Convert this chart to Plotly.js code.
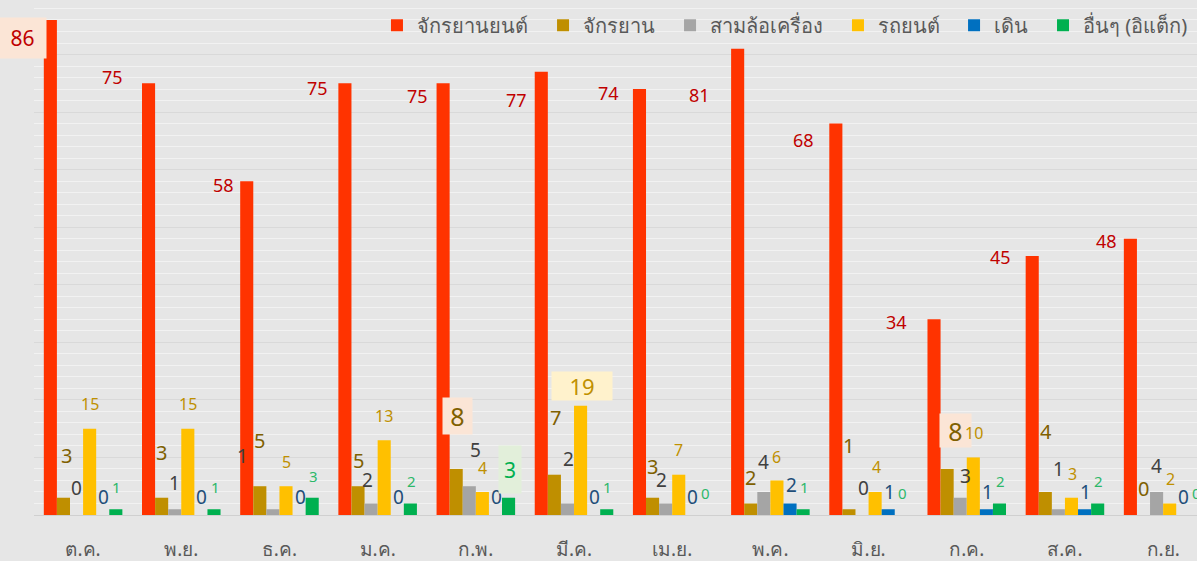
<!DOCTYPE html>
<html>
<head>
<meta charset="utf-8">
<script src="https://cdn.plot.ly/plotly-3.0.1.min.js"></script>
<style>html,body{margin:0;padding:0;background:#e6e6e6;}#chart{width:1197px;height:561px;}</style>
</head>
<body>
<div id="chart"></div>
<script>
// ---- data ----
const months = ['ต.ค.','พ.ย.','ธ.ค.','ม.ค.','ก.พ.','มี.ค.','เม.ย.','พ.ค.','มิ.ย.','ก.ค.','ส.ค.','ก.ย.'];
const seriesNames = ['จักรยานยนต์','จักรยาน','สามล้อเครื่อง','รถยนต์','เดิน','อื่นๆ (อิแต็ก)'];
const motorcycle = [86,75,58,75,75,77,74,81,68,34,45,48];
const bicycle    = [3,3,5,5,8,7,3,2,1,8,4,0];
const tricycle   = [0,1,1,2,5,2,2,4,0,3,1,4];
const car        = [15,15,5,13,4,19,7,6,4,10,3,2];
const walk       = [0,0,0,0,0,0,0,2,1,1,1,0];
const other      = [1,1,3,2,3,1,0,1,0,2,2,0];

// ---- styles ----
const values = [motorcycle, bicycle, tricycle, car, walk, other];
const barColors = ['#FF3300','#BF8F00','#A5A5A5','#FFC000','#0070C0','#00B050'];
const labelColors = ['#C00000','#7F6000','#404040','#BF9000','#1F4E79','#2DB86A'];
const labelSizes = [18,20,19,16,19,15];
// legend entry left positions (paper fraction of plot width)
const legendX = [0.2949,0.4377,0.5469,0.6913,0.7911,0.8676];
// label offsets in pixels (dx from bar centre, dy above bar top)
const labelDx = [
  [-28,-36,-23,-27,-26,-25,-31,-38,-32,-38,-32,-24],
  [3,0,0,0,1,1,0,0,0,8,1,0],
  [0,0,-30,-4,6,1,-4,0,1,5,0,0],
  [0,0,0,0,0,1,0,0,1,1,1,1],
  [1,1,1,1,1,1,1,1,1,1,1,1],
  [1,1,1,1,1,1,1,1,1,1,1,1]
];
const labelDy = [
  [-18,6,-4,-5,-13,-28,-4,-46,-16,-3,-1,-2],
  [42,45,46,26,53,57,31,26,64,38,60,27],
  [27,26,53,23,36,44,23,30,27,22,40,26],
  [25,25,24,24,24,20,25,23,25,24,24,24],
  [18,18,18,18,18,18,18,18,17,17,17,18],
  [22,22,22,22,28,22,22,22,22,22,22,22]
];
// highlighted labels: [series, month, bgcolor, width, height, fontsize]
const boxes = [
  [0,0,'#FBE5D6',47,40,21],
  [1,4,'#FBE5D6',29,36,25],
  [1,9,'#FBE5D6',31,33,25],
  [3,5,'#FFF2CC',60,28,22],
  [5,4,'#E2EFDA',22,47,21]
];

const FONT = 'Tahoma, "Noto Sans", "DejaVu Sans", sans-serif';
const nS = values.length;
const bargap = 0.2;
const bw = (1 - bargap) / nS;

const legendId = i => (i === 0 ? 'legend' : 'legend' + (i + 1));

const traces = values.map((v, i) => ({
  type: 'bar',
  name: seriesNames[i],
  x: months,
  y: v,
  marker: {color: barColors[i]},
  legend: legendId(i),
  hoverinfo: 'skip'
}));

const annotations = [];
values.forEach((v, s) => {
  v.forEach((val, m) => {
    const box = boxes.find(b => b[0] === s && b[1] === m);
    const a = {
      xref: 'x', yref: 'y',
      x: m - (1 - bargap) / 2 + (s + 0.5) * bw,
      y: val,
      text: String(val),
      showarrow: false,
      xanchor: 'center', yanchor: 'middle',
      xshift: labelDx[s][m],
      yshift: labelDy[s][m],
      font: {family: FONT, size: labelSizes[s], color: labelColors[s]}
    };
    if (box) {
      a.bgcolor = box[2];
      a.width = box[3];
      a.height = box[4];
      a.borderpad = 0;
      a.font = {family: FONT, size: box[5], color: s === 5 ? '#00B050' : labelColors[s]};
    }
    annotations.push(a);
  });
});

const layout = {
  width: 1197, height: 561,
  paper_bgcolor: '#e6e6e6',
  plot_bgcolor: '#e6e6e6',
  margin: {l: 34, r: 0, t: 0, b: 46, pad: 0},
  barmode: 'group',
  bargap: bargap,
  bargroupgap: 0,
  showlegend: true,
  xaxis: {
    type: 'category',
    range: [-0.5, 11.345],
    showgrid: false, zeroline: false, showline: false,
    ticks: '',
    ticklabelstandoff: 21,
    tickfont: {family: FONT, size: 19, color: '#595959'},
    automargin: false,
    fixedrange: true
  },
  yaxis: {
    range: [0, 89.47],
    dtick: 10, tick0: 0,
    showticklabels: false,
    showgrid: true, gridcolor: '#d9d9d9', gridwidth: 1,
    minor: {dtick: 2, showgrid: true, gridcolor: '#f2f2f2', gridwidth: 1},
    zeroline: true, zerolinecolor: '#d0d0d0', zerolinewidth: 1,
    showline: false, ticks: '',
    automargin: false,
    fixedrange: true
  },
  annotations: annotations
};

legendX.forEach((lx, i) => {
  layout[legendId(i)] = {
    orientation: 'h', x: lx, xanchor: 'left', y: 0.989, yanchor: 'top',
    bgcolor: 'rgba(0,0,0,0)',
    font: {family: FONT, size: 20, color: '#595959'}
  };
});

Plotly.newPlot('chart', traces, layout, {displayModeBar: false, staticPlot: true});
</script>
</body>
</html>
